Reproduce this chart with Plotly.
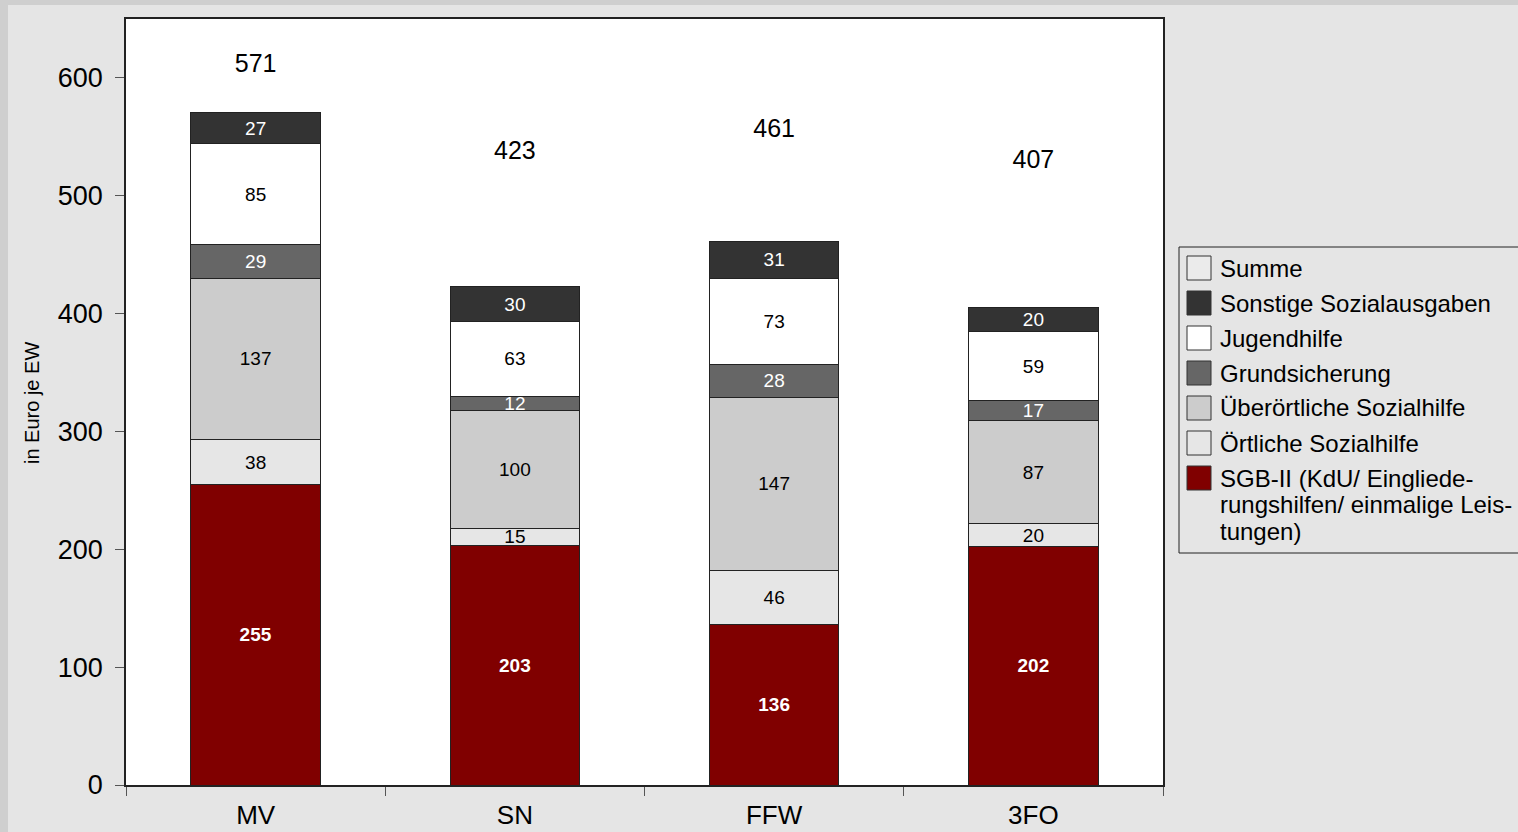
import plotly.graph_objects as go

categories = ["MV", "SN", "FFW", "3FO"]

sgb2 = [255, 203, 136, 202]
oertliche = [38, 15, 46, 20]
ueberoertliche = [137, 100, 147, 87]
grundsicherung = [29, 12, 28, 17]
jugendhilfe = [85, 63, 73, 59]
sonstige = [27, 30, 31, 20]
summe = [571, 423, 461, 407]

Y_MAX = 650
FONT = "Liberation Sans, Arial, sans-serif"

# stacking order bottom -> top
series = [
    ("SGB-II (KdU/ Eingliede-<br>rungshilfen/ einmalige Leis-<br>tungen)", sgb2, "#800000", "white", "bold"),
    ("Örtliche Sozialhilfe", oertliche, "#e6e6e6", "black", "normal"),
    ("Überörtliche Sozialhilfe", ueberoertliche, "#cccccc", "black", "normal"),
    ("Grundsicherung", grundsicherung, "#666666", "white", "normal"),
    ("Jugendhilfe", jugendhilfe, "#ffffff", "black", "normal"),
    ("Sonstige Sozialausgaben", sonstige, "#333333", "white", "normal"),
]
summe_name = "Summe"
summe_color = "#ebebeb"

fig = go.Figure()

for name, vals, color, tcolor, weight in series:
    fig.add_trace(go.Bar(
        x=categories, y=vals, name=name.replace("<br>", ""),
        marker=dict(color=color, line=dict(color="#222222", width=1)),
        text=[str(v) for v in vals],
        textposition="inside", insidetextanchor="middle", textangle=0,
        textfont=dict(family=FONT, size=19, color=tcolor, weight=weight),
        width=0.5, hoverinfo="skip", showlegend=False,
    ))

# Summe labels: centered in the visible space above each stack
fig.add_trace(go.Scatter(
    x=categories, y=[(s + Y_MAX) / 2 for s in summe],
    mode="text", text=[str(s) for s in summe],
    textfont=dict(family=FONT, size=25, color="black"),
    showlegend=False, hoverinfo="skip",
))

# plot area pixel geometry
L, R, T, B = 126, 1163, 19, 785
W, H = 1518, 832
pw, ph = R - L, B - T

def px_x(p):
    return (p - L) / pw

def px_y(p):
    return (B - p) / ph

shapes = [
    dict(type="rect", xref="paper", yref="paper",
         x0=px_x(0), x1=px_x(8), y0=px_y(H), y1=px_y(0),
         fillcolor="#cfcfcf", line=dict(width=0), layer="below"),
    dict(type="rect", xref="paper", yref="paper",
         x0=px_x(0), x1=px_x(W), y0=px_y(5), y1=px_y(0),
         fillcolor="#cfcfcf", line=dict(width=0), layer="below"),
    # legend frame
    dict(type="rect", xref="paper", yref="paper",
         x0=px_x(1179), x1=px_x(W + 5), y0=px_y(553), y1=px_y(247),
         fillcolor="rgba(0,0,0,0)", line=dict(color="#222222", width=1)),
]
annotations = [
    dict(
        text="in Euro je EW", textangle=-90,
        xref="paper", yref="paper", x=px_x(32), y=px_y(403),
        xanchor="center", yanchor="middle", showarrow=False,
        font=dict(family=FONT, size=20, color="black"),
    )
]

# custom legend: Summe first, then series top -> bottom of stack
legend_items = [(summe_name, summe_color)] + [(s[0], s[2]) for s in reversed(series)]
item_y0 = 268
item_step = 35
line_step = 26.5
for i, (name, color) in enumerate(legend_items):
    cy = item_y0 + i * item_step
    shapes.append(dict(
        type="rect", xref="paper", yref="paper",
        x0=px_x(1187), x1=px_x(1211), y0=px_y(cy + 12), y1=px_y(cy - 12),
        fillcolor=color, line=dict(color="#333333", width=1),
    ))
    for j, line in enumerate(name.split("<br>")):
        annotations.append(dict(
            text=line, xref="paper", yref="paper",
            x=px_x(1218), y=px_y(cy + j * line_step),
            xanchor="left", yanchor="middle", showarrow=False,
            font=dict(family=FONT, size=24, color="black"),
        ))

fig.update_layout(
    width=W, height=H,
    margin=dict(l=L, r=W - R, t=T, b=H - B, pad=0, autoexpand=False),
    barmode="stack",
    paper_bgcolor="#e5e5e5",
    plot_bgcolor="white",
    font=dict(family=FONT, color="black"),
    uniformtext=dict(minsize=19, mode="show"),
    showlegend=False,
    xaxis=dict(
        type="category", range=[-0.5, 3.5], automargin=False,
        showline=True, linecolor="#222222", linewidth=1.5, mirror=True,
        ticks="outside", ticklen=9, tickcolor="#555555", tickson="boundaries",
        tickfont=dict(family=FONT, size=26, color="black"),
        ticklabelstandoff=6,
        showgrid=False, fixedrange=True,
    ),
    yaxis=dict(
        range=[0, Y_MAX], dtick=100, tick0=0, automargin=False,
        showline=True, linecolor="#222222", linewidth=1.5, mirror=True,
        ticks="outside", ticklen=9, tickcolor="#555555",
        tickfont=dict(family=FONT, size=27, color="black"),
        ticklabelstandoff=7,
        showgrid=False, zeroline=False, fixedrange=True,
    ),
    annotations=annotations,
    shapes=shapes,
)

fig.write_html(
    "out.html",
    config=dict(displayModeBar=False),
    post_script="document.body.style.margin='0';document.body.style.overflow='hidden';",
)
